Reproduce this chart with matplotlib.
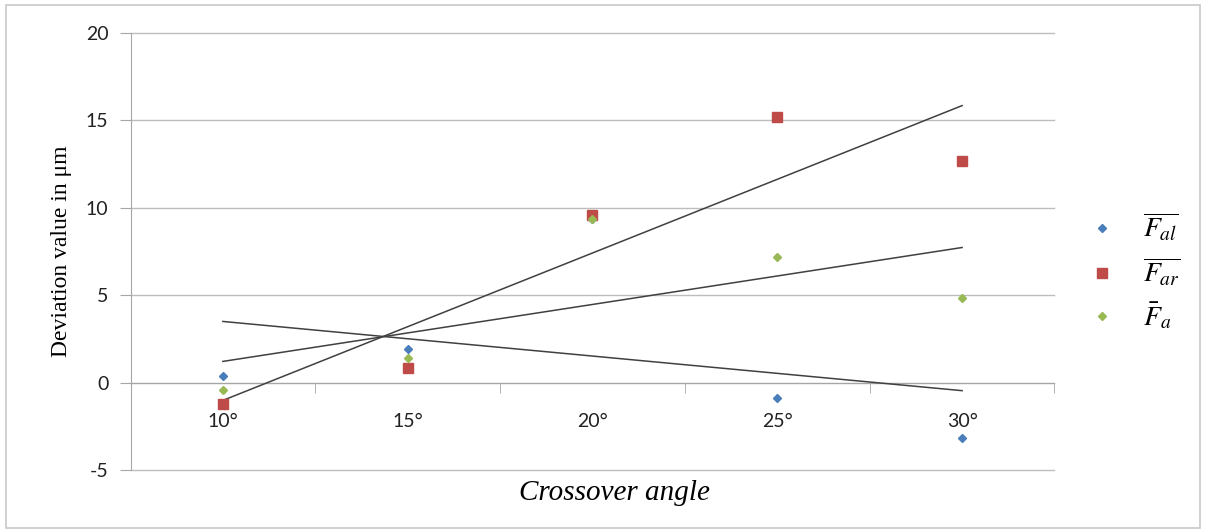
import matplotlib.pyplot as plt
import numpy as np
from matplotlib.patches import Rectangle

angles = ["10°", "15°", "20°", "25°", "30°"]
f_al = [0.38, 1.92, 9.35, -0.88, -3.17]
f_ar = [-1.22, 0.84, 9.58, 15.2, 12.68]
f_a = [-0.42, 1.41, 9.35, 7.18, 4.84]

labels = [r"$\overline{F_{al}}$", r"$\overline{F_{ar}}$", r"$\bar{F}_a$"]
colors = ["#4a7ebb", "#be4b48", "#98b954"]
markers = ["D", "s", "D"]
sizes = [4.5, 6.5, 4.5]

plt.rcParams["mathtext.fontset"] = "stix"
plt.rcParams["axes.unicode_minus"] = False
plt.rcParams["font.family"] = ["Lato", "DejaVu Sans"]

fig = plt.figure(figsize=(12.05, 5.32), dpi=100)
ax = fig.add_axes([0.1083, 0.1165, 0.7668, 0.8214])

x = np.arange(1, len(angles) + 1)
for ys, lab, c, m, s in zip([f_al, f_ar, f_a], labels, colors, markers, sizes):
    ax.plot(x, ys, linestyle="none", marker=m, color=c, markersize=s, label=lab, zorder=4)

# linear trendlines like excel
for ys in [f_al, f_ar, f_a]:
    k, b = np.polyfit(x, ys, 1)
    ax.plot(x, k * x + b, color="#404040", lw=1.1, zorder=3)

ax.set_xlim(0.5, 5.5)
ax.set_ylim(-5, 20)
ax.set_yticks([-5, 0, 5, 10, 15, 20])
ax.yaxis.grid(True, color="#bdbdbd", lw=1)
for gl in ax.get_ygridlines():
    gl.set_clip_on(False)
ax.set_axisbelow(True)

for side in ["top", "right"]:
    ax.spines[side].set_visible(False)
ax.spines["left"].set_color("#a6a6a6")
ax.spines["bottom"].set_position(("data", 0))
ax.spines["bottom"].set_color("#a6a6a6")

ax.set_xticks(x)
ax.set_xticklabels(angles)
ax.set_xticks(np.arange(0.5, 5.6, 1), minor=True)
ax.tick_params(axis="x", which="major", length=0, pad=22, labelsize=14, colors="#222222")
ax.tick_params(axis="x", which="minor", length=7, direction="out", color="#a6a6a6")
ax.tick_params(axis="y", length=8, color="#a6a6a6", labelsize=14, labelcolor="#222222", pad=8)

ax.set_ylabel("Deviation value in μm", family="Liberation Serif", fontsize=17, labelpad=10)
fig.text(0.51, 0.073, "Crossover angle", family="Liberation Serif", style="italic",
         fontsize=21, ha="center", va="center")

fig.legend(loc="center left", bbox_to_anchor=(0.886, 0.49), frameon=False, fontsize=20,
           handlelength=0.7, handletextpad=1.1, labelspacing=0.45)

fig.patches.append(Rectangle((0.005, 0.008), 0.991, 0.982, transform=fig.transFigure,
                             fill=False, edgecolor="#c8c8c8", lw=1.2))

fig.savefig("out.png", dpi=100)
